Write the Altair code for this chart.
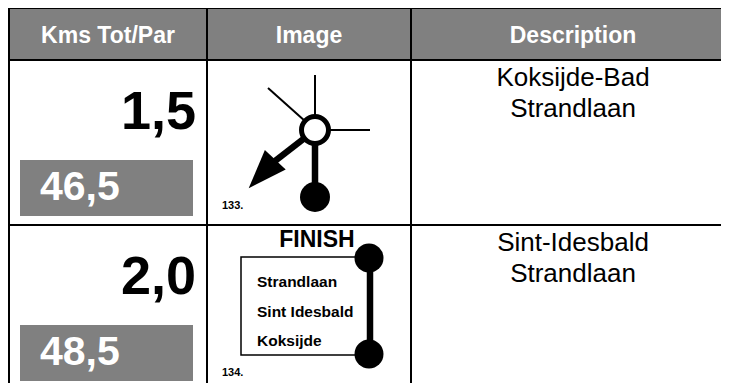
import altair as alt
import pandas as pd

# ---------------- data ----------------
headers = ["Kms Tot/Par", "Image", "Description"]
kms_partial = ["1,5", "2,0"]
kms_total = ["46,5", "48,5"]
step_numbers = ["133.", "134."]
desc_line1 = ["Koksijde-Bad", "Sint-Idesbald"]
desc_line2 = ["Strandlaan", "Strandlaan"]
finish_title = "FINISH"
finish_streets = ["Strandlaan", "Sint Idesbald", "Koksijde"]

# ---------------- layout (page pixels) ----------------
X0, X1, Y0, Y1 = 8, 721, 8, 383
col_edges = [9, 207, 411, 740]
header_top, header_bottom = 8, 60
row_tops = [60, 225]
GRAY = "#808080"
FONT = "Liberation Sans"

xs = alt.Scale(domain=[X0, X1], nice=False, zero=False)
ys = alt.Scale(domain=[Y0, Y1], nice=False, zero=False, reverse=True)


def X(f="x"):
    return alt.X(f"{f}:Q", scale=xs, axis=None)


def Y(f="y"):
    return alt.Y(f"{f}:Q", scale=ys, axis=None)


# header background
header_df = pd.DataFrame([{"x": col_edges[0], "x2": col_edges[-1], "y": header_top, "y2": header_bottom}])
header_bg = alt.Chart(header_df).mark_rect(color=GRAY).encode(
    x=X(), x2="x2:Q", y=Y(), y2="y2:Q")

header_txt_df = pd.DataFrame({
    "label": headers,
    "x": [(col_edges[i] + col_edges[i + 1]) / 2 if i < 2 else 573 for i in range(3)],
    "y": [42.5] * 3,
})
header_txt = alt.Chart(header_txt_df).mark_text(
    font=FONT, fontSize=23, fontWeight="bold", color="white", align="center", baseline="alphabetic"
).encode(x=X(), y=Y(), text="label:N")

# total boxes
box_df = pd.DataFrame({
    "x": [20] * len(row_tops), "x2": [193] * len(row_tops),
    "y": [t + 100 for t in row_tops], "y2": [t + 156 for t in row_tops],
})
boxes = alt.Chart(box_df).mark_rect(color=GRAY).encode(x=X(), x2="x2:Q", y=Y(), y2="y2:Q")

partial_df = pd.DataFrame({"label": kms_partial, "x": [196] * 2, "y": [t + 69 for t in row_tops]})
partial_txt = alt.Chart(partial_df).mark_text(
    font=FONT, fontSize=54, fontWeight="bold", color="black", align="right", baseline="alphabetic"
).encode(x=X(), y=Y(), text="label:N")

total_df = pd.DataFrame({"label": kms_total, "x": [40] * 2, "y": [200, 365]})
total_txt = alt.Chart(total_df).mark_text(
    font=FONT, fontSize=41, fontWeight="bold", color="white", align="left", baseline="alphabetic"
).encode(x=X(), y=Y(), text="label:N")

step_df = pd.DataFrame({"label": step_numbers, "x": [222] * 2, "y": [209, 376]})
step_txt = alt.Chart(step_df).mark_text(
    font=FONT, fontSize=11, fontWeight="bold", color="black", align="left", baseline="alphabetic"
).encode(x=X(), y=Y(), text="label:N")

desc_df = pd.DataFrame({
    "label": desc_line1 + desc_line2,
    "x": [573] * 4,
    "y": [t + 26 for t in row_tops] + [t + 57 for t in row_tops],
})
desc_txt = alt.Chart(desc_df).mark_text(
    font=FONT, fontSize=26, color="black", align="center", baseline="alphabetic"
).encode(x=X(), y=Y(), text="label:N")

# table grid lines
grid_df = pd.DataFrame([
    {"x": col_edges[0], "x2": col_edges[-1], "y": 8, "y2": 8},
    {"x": col_edges[0], "x2": col_edges[-1], "y": header_bottom, "y2": header_bottom},
    {"x": col_edges[0], "x2": col_edges[-1], "y": row_tops[1], "y2": row_tops[1]},
    {"x": col_edges[0], "x2": col_edges[0], "y": 8, "y2": 400},
    {"x": col_edges[1], "x2": col_edges[1], "y": 8, "y2": 400},
    {"x": col_edges[2], "x2": col_edges[2], "y": 8, "y2": 400},
])
grid = alt.Chart(grid_df).mark_rule(color="black", strokeWidth=2, clip=True).encode(
    x=X(), x2="x2:Q", y=Y(), y2="y2:Q")

# ---------- diagram 133: roundabout ----------
thin_df = pd.DataFrame([
    {"x": 315, "y": 75, "x2": 315, "y2": 130},
    {"x": 268, "y": 88, "x2": 315, "y2": 130},
    {"x": 370, "y": 130, "x2": 315, "y2": 130},
])
thin = alt.Chart(thin_df).mark_rule(color="black", strokeWidth=2).encode(
    x=X(), x2="x2:Q", y=Y(), y2="y2:Q")

thick_df = pd.DataFrame([
    {"x": 315, "y": 130, "x2": 315, "y2": 197},
    {"x": 315, "y": 130, "x2": 275, "y2": 161},
    {"x": 370, "y": 258, "x2": 370, "y2": 354},
])
thick = alt.Chart(thick_df).mark_rule(color="black", strokeWidth=6.5).encode(
    x=X(), x2="x2:Q", y=Y(), y2="y2:Q")

ring_df = pd.DataFrame([{"x": 315, "y": 130}])
ring = alt.Chart(ring_df).mark_point(
    shape="circle", filled=True, fill="white", stroke="black", strokeWidth=5, size=729, opacity=1
).encode(x=X(), y=Y())

dots_df = pd.DataFrame([
    {"x": 315, "y": 197, "s": 900},
    {"x": 369, "y": 258, "s": 841},
    {"x": 369, "y": 354, "s": 841},
])
dots = alt.Chart(dots_df).mark_point(shape="circle", filled=True, color="black", opacity=1).encode(
    x=X(), y=Y(), size=alt.Size("s:Q", scale=None, legend=None))

arrow_df = pd.DataFrame([{"x": 262, "y": 174, "a": 223}])
arrow = alt.Chart(arrow_df).mark_point(
    shape="M0,-1L0.73,1L-0.73,1Z", filled=True, color="black", size=1521, opacity=1
).encode(x=X(), y=Y(), angle=alt.Angle("a:Q", scale=None))

# ---------- diagram 134: finish ----------
fin_box_df = pd.DataFrame([{"x": 241, "x2": 370, "y": 257, "y2": 355}])
fin_box = alt.Chart(fin_box_df).mark_rect(
    fillOpacity=0, stroke="black", strokeWidth=1.5
).encode(x=X(), x2="x2:Q", y=Y(), y2="y2:Q")

fin_title_df = pd.DataFrame([{"label": finish_title, "x": 317, "y": 247}])
fin_title = alt.Chart(fin_title_df).mark_text(
    font=FONT, fontSize=23, fontWeight="bold", color="black", align="center", baseline="alphabetic"
).encode(x=X(), y=Y(), text="label:N")

fin_streets_df = pd.DataFrame({"label": finish_streets, "x": [257] * 3, "y": [287, 317, 346]})
fin_streets = alt.Chart(fin_streets_df).mark_text(
    font=FONT, fontSize=15.5, fontWeight="bold", color="black", align="left", baseline="alphabetic"
).encode(x=X(), y=Y(), text="label:N")

chart = alt.layer(
    header_bg, boxes, fin_box, grid, thin, thick, ring, dots, arrow,
    header_txt, partial_txt, total_txt, step_txt, desc_txt, fin_title, fin_streets,
).properties(
    width=X1 - X0, height=Y1 - Y0, padding=0, autosize=alt.AutoSizeParams(type="none")
).configure_view(stroke=None).configure(background="white")

chart.save("out.html", embed_options={"renderer": "svg", "actions": False})
